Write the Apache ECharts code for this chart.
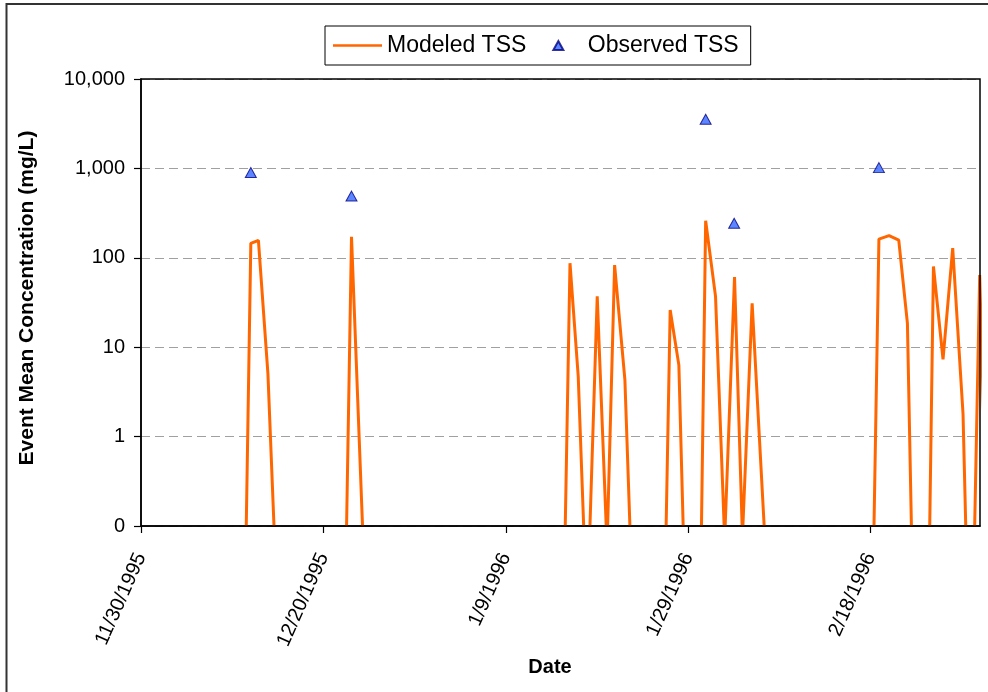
<!DOCTYPE html>
<html>
<head>
<meta charset="utf-8">
<script src="https://cdn.jsdelivr.net/npm/echarts@6/dist/echarts.min.js"></script>
<style>
  html, body { margin: 0; padding: 0; background: #fff; }
  #chart { width: 988px; height: 692px; }
</style>
</head>
<body>
<div id="chart"></div>
<script>
// ---- Data ----
// Modeled TSS event-mean concentrations (mg/L); null marks a break between events.
// 0.1 is the bottom of the log axis (labelled "0").
const modeledDates = [
  '1995-12-11 13:00', '1995-12-12 01:00', '1995-12-12 21:00', '1995-12-13 22:00', '1995-12-14 14:00', null,
  '1995-12-22 13:00', '1995-12-23 02:00', '1995-12-24 07:00', null,
  '1996-01-15 12:30', '1996-01-16 01:00', '1996-01-16 22:40', '1996-01-17 13:00', null,
  '1996-01-18 05:30', '1996-01-19 00:40', '1996-01-20 00:20', null,
  '1996-01-20 04:00', '1996-01-20 22:25', '1996-01-22 01:30', '1996-01-22 14:40', null,
  '1996-01-26 14:00', '1996-01-27 00:40', '1996-01-27 23:30', '1996-01-28 10:50', null,
  '1996-01-30 11:00', '1996-01-30 22:00', '1996-02-01 00:00', '1996-02-01 22:40', null,
  '1996-02-02 01:20', '1996-02-03 02:00', '1996-02-03 22:00', null,
  '1996-02-04 00:00', '1996-02-05 00:20', '1996-02-06 08:00', null,
  '1996-02-18 09:00', '1996-02-18 22:00', '1996-02-20 00:40', '1996-02-21 02:10', '1996-02-22 01:00', '1996-02-22 11:30', null,
  '1996-02-24 11:40', '1996-02-24 21:30', '1996-02-25 22:40', '1996-02-27 00:10', '1996-02-28 03:20', '1996-02-28 10:30', null,
  '1996-02-29 10:00', '1996-02-29 23:10', '1996-03-01 17:40'
];
const modeledTSS = [
  0.1, 145, 157, 5.1, 0.1, null,
  0.1, 172, 0.1, null,
  0.1, 87, 4.7, 0.1, null,
  0.1, 37, 0.1, null,
  0.1, 83, 4.3, 0.1, null,
  0.1, 26, 6.3, 0.1, null,
  0.1, 260, 37, 0.1, null,
  0.1, 61, 0.1, null,
  0.1, 31, 0.1, null,
  0.1, 162, 177, 158, 18.5, 0.1, null,
  0.1, 80, 7.3, 128, 1.8, 0.1, null,
  0.1, 64, 0.1
];
// Observed TSS (mg/L)
const observedDates = ['1995-12-12 01:00', '1995-12-23 02:00', '1996-01-30 22:00', '1996-02-03 01:00', '1996-02-18 22:00'];
const observedTSS = [900, 490, 3540, 243, 1020];

// Axis ticks
const xTickDates = ['1995-11-30', '1995-12-20', '1996-01-09', '1996-01-29', '1996-02-18'];
const xEndDate = '1996-03-01';
const yTicks = [0.1, 1, 10, 100, 1000, 10000];

// ---- Helpers ----
const DAY = 86400000;
function toUTC(s) {
  const [d, t] = s.split(' ');
  const [Y, M, D] = d.split('-').map(Number);
  let h = 0, m = 0;
  if (t) { [h, m] = t.split(':').map(Number); }
  return Date.UTC(Y, M - 1, D, h, m);
}
const ORIGIN = toUTC(xTickDates[0]);
const toDay = s => (toUTC(s) - ORIGIN) / DAY;
function dayLabel(v) {
  const dt = new Date(ORIGIN + Math.round(v) * DAY);
  return (dt.getUTCMonth() + 1) + '/' + dt.getUTCDate() + '/' + dt.getUTCFullYear();
}

const xTickVals = xTickDates.map(toDay);
const xMax = toDay(xEndDate);

let lastX = 0;
const modeledData = modeledDates.map((d, i) => {
  if (d === null || modeledTSS[i] === null) return [lastX, '-'];
  lastX = toDay(d);
  return [lastX, modeledTSS[i]];
});
const observedData = observedDates.map((d, i) => [toDay(d), observedTSS[i]]);

const FONT = "'Liberation Sans', Arial, sans-serif";
const W = 988, H = 692;
const G = { left: 141, top: 79, right: 8, bottom: 166 };

const chart = echarts.init(document.getElementById('chart'), null, { renderer: 'canvas' });
chart.setOption({
  animation: false,
  backgroundColor: '#fff',
  textStyle: { fontFamily: FONT, color: '#000' },
  grid: {
    left: G.left, top: G.top, right: G.right, bottom: G.bottom,
    containLabel: false, outerBoundsMode: 'none'
  },
  legend: {
    left: 325, top: 26,
    padding: [8, 12, 8, 8],
    borderColor: '#000', borderWidth: 1,
    itemWidth: 49, itemHeight: 9, itemGap: 26,
    symbolKeepAspect: true,
    textStyle: { fontSize: 23, fontFamily: FONT, color: '#000' },
    data: [
      { name: 'Modeled TSS', icon: 'path://M0,0 L48,0 L48,2.5 L0,2.5 Z', symbolKeepAspect: true },
      { name: 'Observed TSS', icon: 'path://M5,0 L10,9 L0,9 Z', symbolKeepAspect: true }
    ]
  },
  xAxis: {
    type: 'value', min: 0, max: xMax, interval: 20,
    axisLine: { show: true, lineStyle: { color: '#000', width: 1.5 } },
    axisTick: { show: true, inside: false, length: 7, customValues: xTickVals, lineStyle: { color: '#000', width: 1.2 } },
    axisLabel: {
      customValues: xTickVals, rotate: 66, margin: 28,
      fontSize: 20, color: '#000', fontFamily: FONT,
      formatter: v => dayLabel(v)
    },
    splitLine: { show: false },
    name: 'Date', nameLocation: 'middle', nameGap: 119,
    nameTextStyle: { fontSize: 20, fontWeight: 'bold', color: '#000', fontFamily: FONT, padding: [0, 21, 0, 0] }
  },
  yAxis: {
    type: 'log', logBase: 10, min: yTicks[0], max: yTicks[yTicks.length - 1],
    axisLine: { show: true, lineStyle: { color: '#000', width: 1.5 } },
    axisTick: { show: true, inside: false, length: 7, lineStyle: { color: '#000', width: 1.2 } },
    axisLabel: {
      fontSize: 20, color: '#000', margin: 16, fontFamily: FONT,
      formatter: v => Math.round(v).toLocaleString('en-US')
    },
    splitLine: { show: true, lineStyle: { color: '#a0a0a0', type: [9, 5], width: 1 } },
    name: 'Event Mean Concentration (mg/L)', nameLocation: 'middle', nameGap: 103,
    nameTextStyle: { fontSize: 21, fontWeight: 'bold', color: '#000', fontFamily: FONT, padding: [0, 0, 0, 9] }
  },
  series: [
    {
      name: 'Modeled TSS', type: 'line', data: modeledData,
      showSymbol: false, symbol: 'none', connectNulls: false, clip: false,
      lineStyle: { color: '#FF6600', width: 3 },
      itemStyle: { color: '#FF6600' },
      z: 3
    },
    {
      name: 'Observed TSS', type: 'scatter', data: observedData,
      symbol: 'triangle', symbolSize: [11, 10], symbolKeepAspect: true,
      itemStyle: { color: '#3366FF', borderColor: '#000080', borderWidth: 1 },
      z: 4
    }
  ],
  graphic: [
    {
      type: 'rect', silent: true, z: 100,
      shape: { x: G.left, y: G.top, width: W - G.left - G.right, height: H - G.top - G.bottom },
      style: { fill: 'none', stroke: '#000', lineWidth: 1.5 }
    },
    {
      type: 'rect', silent: true, z: 100,
      shape: { x: 6.5, y: 4, width: 1000, height: 720 },
      style: { fill: 'none', stroke: '#333', lineWidth: 2 }
    }
  ]
});
</script>
</body>
</html>
